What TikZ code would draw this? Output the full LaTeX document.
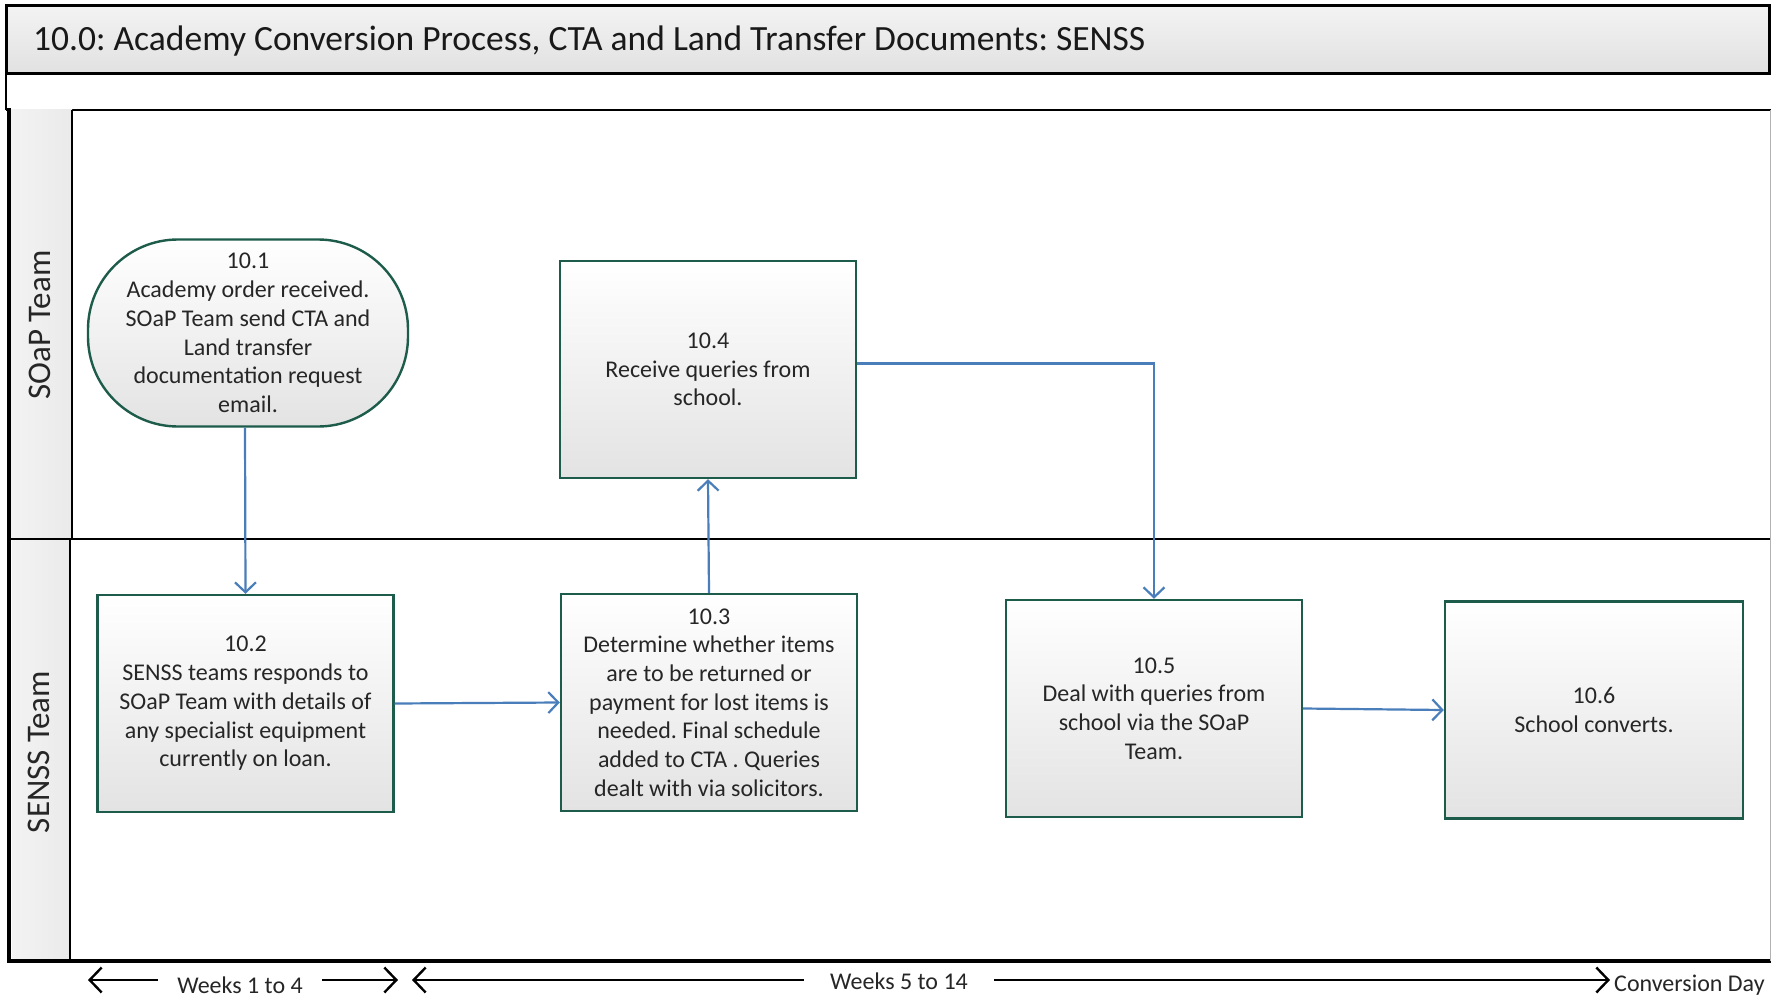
\documentclass[tikz,border=0pt]{standalone}
\usepackage{fontspec}
\setmainfont{Carlito}
\frenchspacing
\usetikzlibrary{arrows.meta}

\definecolor{boxgreen}{HTML}{1D5C4A}
\definecolor{flowblue}{HTML}{4A7EBB}
\definecolor{barlight}{HTML}{F3F3F3}
\definecolor{bardark}{HTML}{E1E1E1}

\tikzset{
  procbox/.style={draw=boxgreen, line width=2.4pt, top color=white, bottom color=black!11,
    minimum width=296pt, minimum height=217pt, align=center, inner sep=0pt,
    font=\fontsize{24}{28.7}\selectfont, text=black!85},
  startbox/.style={procbox, rounded corners=90pt, minimum width=320pt, minimum height=187pt},
  flow/.style={draw=flowblue, line width=2.2pt, -{Straight Barb[length=10pt, width=21pt, line width=2.2pt]}},
  lanelabel/.style={rotate=90, font=\fontsize{33}{38}\selectfont, text=black!85},
  timetext/.style={font=\fontsize{24}{28}\selectfont, text=black!85, inner sep=0pt},
  timeline/.style={draw=black, line width=2.4pt},
  timebarb/.tip={Straight Barb[length=12pt, width=25pt, line width=2.4pt]},
}

\begin{document}
\begin{tikzpicture}[x=1pt, y=-1pt]
  \useasboundingbox (0,0) rectangle (1771,1000);
  \fill[white] (0,0) rectangle (1771,1000);

  % title bar
  \shade[top color=barlight, bottom color=bardark] (6,6) rectangle (1769,74);
  \draw[line width=3pt] (6,6) rectangle (1769,74);
  \node[anchor=west, font=\fontsize{35.5}{40}\selectfont, text=black!90, inner sep=0pt] (title) at (33,41)
    {10.0: Academy Conversion Process, CTA and Land Transfer Documents: SENSS};

  % band under the title
  \draw[line width=1.5pt] (6,74) -- (6,110);
  \draw[line width=2.6pt] (6,110) -- (1771,110);

  % lane label columns
  \shade[left color=barlight, right color=bardark!70!white] (10,110) rectangle (72,539);
  \shade[left color=barlight, right color=bardark!70!white] (12,539) rectangle (70,961);
  \draw[line width=2pt] (72,110) -- (72,539);
  \draw[line width=2pt] (70,539) -- (70,961);
  \draw[line width=2.2pt] (10,539) -- (1771,539);
  \draw[line width=4pt] (9,108) -- (9,963);
  \draw[line width=3.2pt] (7,961) -- (1771,961);
  \draw[black!30, line width=1pt] (1770,110) -- (1770,961);

  \node[lanelabel] (soap) at (40,325) {SOaP Team};
  \node[lanelabel] (senss) at (39,752) {SENSS Team};

  % process steps
  \node[startbox] (s1) at (248,333)
    {10.1\\Academy order received.\\SOaP Team send CTA and\\Land transfer\\documentation request\\email.};
  \node[procbox] (s2) at (245.5,703.5)
    {10.2\\SENSS teams responds to\\SOaP Team with details of\\any specialist equipment\\currently on loan.};
  \node[procbox] (s3) at (709,702.5)
    {10.3\\Determine whether items\\are to be returned or\\payment for lost items is\\needed. Final schedule\\added to CTA . Queries\\dealt with via solicitors.};
  \node[procbox] (s4) at (708,369.5)
    {10.4\\Receive queries from\\school.};
  \node[procbox] (s5) at (1154,708.5)
    {10.5\\Deal with queries from\\school via the SOaP\\Team.};
  \node[procbox, minimum width=298pt] (s6) at (1594,710)
    {10.6\\School converts.};

  % flow connectors
  \draw[flow] ([xshift=-3pt]s1.south) -- (s2.north);
  \draw[flow] (s2.east) -- (s3.west);
  \draw[flow] (s3.north) -- (s4.south);
  \draw[flow] ([yshift=6pt]s4.east) -- ([yshift=6pt]s4.east -| s5.north) -- (s5.north);
  \draw[flow] (s5.east) -- (s6.west);

  % timeline
  \coordinate (a1l) at (88,980);
  \coordinate (a1r) at (158,980);
  \node[timetext] (w1) at (240,985) {Weeks 1 to 4};
  \coordinate (a2l) at (322,980);
  \coordinate (a2r) at (398,980);
  \coordinate (a3l) at (412,980);
  \coordinate (a3r) at (804,980);
  \node[timetext] (w2) at (899,981) {Weeks 5 to 14};
  \coordinate (a4l) at (994,980);
  \coordinate (a4r) at (1610,980);
  \node[timetext, anchor=west] (cd) at (1614,985) {Conversion Day};

  \draw[timeline, {timebarb}-] (a1l) -- (a1r);
  \draw[timeline, -{timebarb}] (a2l) -- (a2r);
  \draw[timeline, {timebarb}-] (a3l) -- (a3r);
  \draw[timeline, -{timebarb}] (a4l) -- (a4r);
\end{tikzpicture}
\end{document}
